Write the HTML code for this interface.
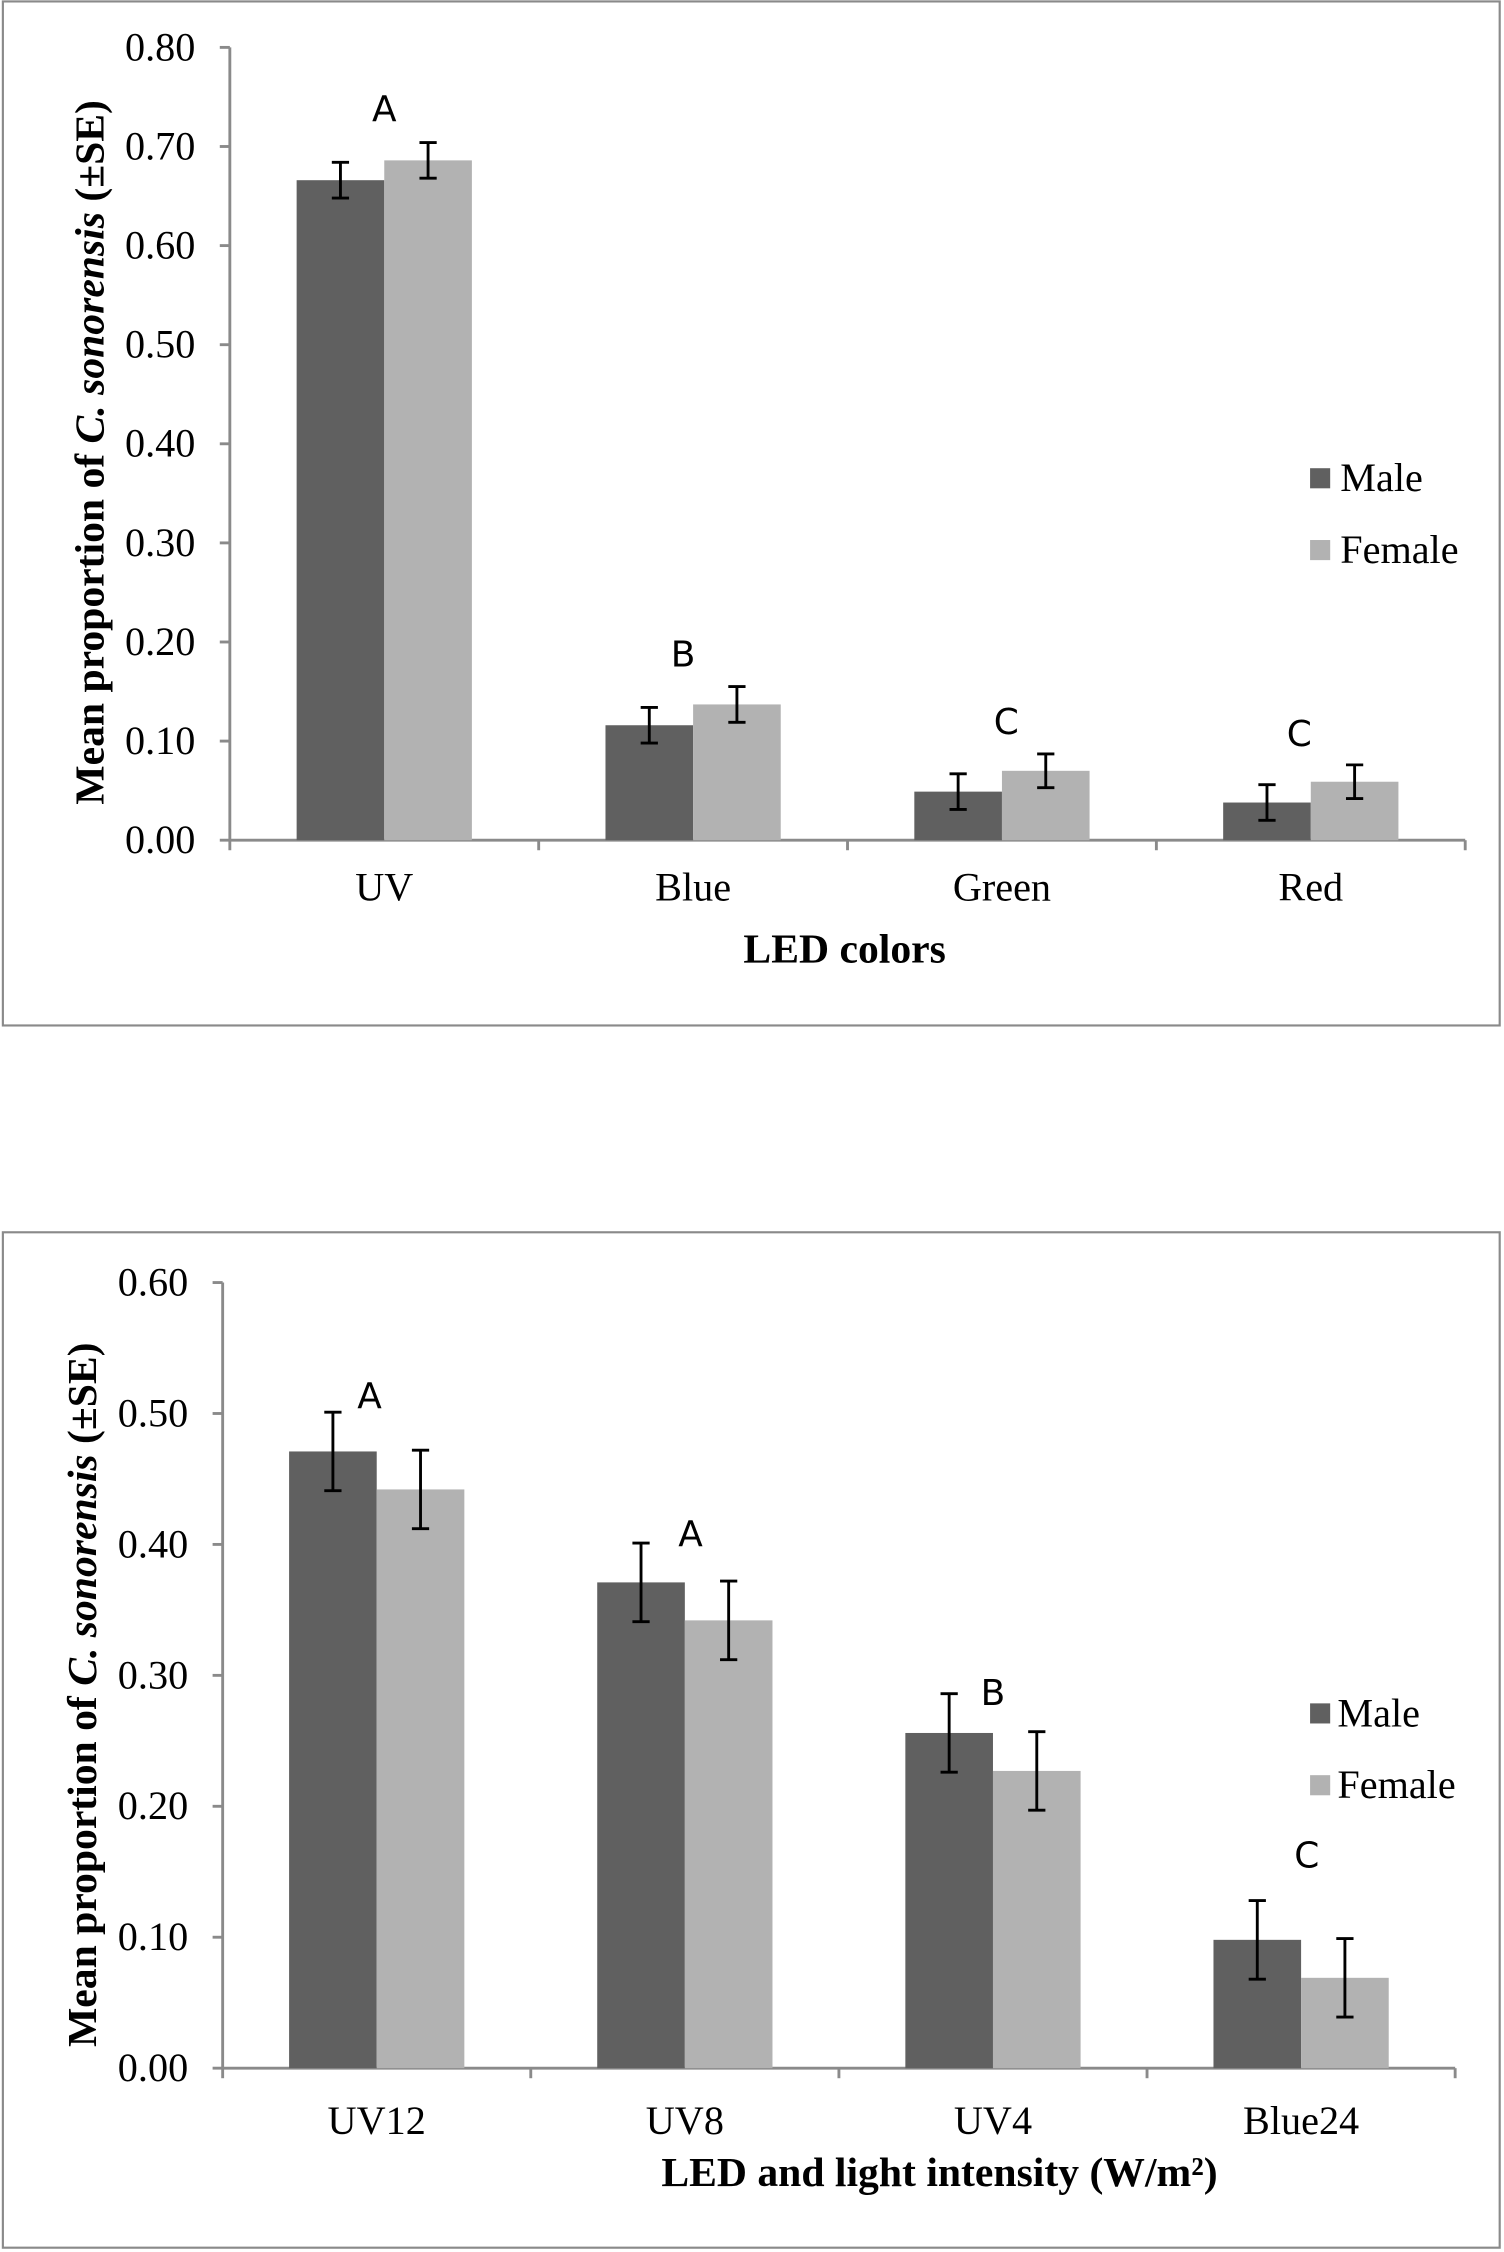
<!DOCTYPE html>
<html><head><meta charset="utf-8"><style>
html,body{margin:0;padding:0;background:#fff;}
svg{display:block;}
.tick{font-family:"Liberation Serif",serif;font-size:28px;fill:#000;}
.ttl{font-family:"Liberation Serif",serif;font-size:29px;font-weight:bold;fill:#000;}
.let{font-family:"DejaVu Sans","Liberation Sans",sans-serif;font-size:25px;fill:#000;}
</style></head><body>
<svg id="svg" width="1504" height="2252" viewBox="0 0 1047 1568" preserveAspectRatio="none" xmlns="http://www.w3.org/2000/svg">
<rect x="2" y="1" width="1042" height="713" fill="none" stroke="#8a8a8a" stroke-width="1.5"/>
<rect x="2" y="858" width="1042" height="707" fill="none" stroke="#8a8a8a" stroke-width="1.5"/>
<g id="c1"></g>
<g id="c2"></g>
</svg>
<script>
const c1Categories=["UV","Blue","Green","Red"];
const c1Male=[0.666,0.116,0.049,0.038];
const c1Female=[0.686,0.137,0.070,0.059];
const c1MaleErr=[0.018,0.018,0.018,0.018];
const c1FemaleErr=[0.018,0.018,0.017,0.017];
const c1Letters=["A","B","C","C"];
const c1Ticks=["0.00","0.10","0.20","0.30","0.40","0.50","0.60","0.70","0.80"];

const c2Categories=["UV12","UV8","UV4","Blue24"];
const c2Male=[0.471,0.371,0.256,0.098];
const c2Female=[0.442,0.342,0.227,0.069];
const c2MaleErr=[0.030,0.030,0.030,0.030];
const c2FemaleErr=[0.030,0.030,0.030,0.030];
const c2Letters=["A","A","B","C"];
const c2Ticks=["0.00","0.10","0.20","0.30","0.40","0.50","0.60"];

const NS="http://www.w3.org/2000/svg";
function mk(parent,tag,attrs,text){const e=document.createElementNS(NS,tag);for(const k in attrs)e.setAttribute(k,attrs[k]);if(text!==undefined)e.textContent=text;parent.appendChild(e);return e;}

function draw(g,cfg){
  const {x0,x1,y0,yTop,maxV,cats,male,female,me,fe,letters,ticks,xTitle,yTitleY,legendY,catLabelY,xTitleY,letterX,letterY}=cfg;
  const y=v=>y0-(v/maxV)*(y0-yTop);
  const cw=(x1-x0)/cats.length, bw=61;
  let a=mk(g,'line',{x1:x0,y1:yTop,x2:x0,y2:y0,stroke:'#8a8a8a','stroke-width':2});
  
  a=mk(g,'line',{x1:x0,y1:y0,x2:x1,y2:y0,stroke:'#8a8a8a','stroke-width':2});
  
  ticks.forEach((t,i)=>{
    const v=parseFloat(t), yy=y(v);
    mk(g,'line',{x1:x0-7,y1:yy,x2:x0,y2:yy,stroke:'#8a8a8a','stroke-width':2});
    const tx=mk(g,'text',{x:x0-24,y:yy+9,'text-anchor':'end','class':'tick'},t);
    
  });
  for(let i=0;i<=cats.length;i++){const xx=x0+i*cw;mk(g,'line',{x1:xx,y1:y0,x2:xx,y2:y0+7,stroke:'#8a8a8a','stroke-width':2});}
  cats.forEach((c,i)=>{
    const cx=x0+cw*(i+0.5);
    const bm=mk(g,'rect',{x:cx-bw,y:y(male[i]),width:bw,height:y0-y(male[i]),fill:'#606060'});
    
    const bf=mk(g,'rect',{x:cx,y:y(female[i]),width:bw,height:y0-y(female[i]),fill:'#b2b2b2'});
    
    [[cx-bw/2,male[i],me[i]],[cx+bw/2,female[i],fe[i]]].forEach(([ex,v,e])=>{
      const eg=mk(g,'g',{stroke:'#000','stroke-width':2});
      
      mk(eg,'line',{x1:ex,y1:y(v+e),x2:ex,y2:y(v-e)});
      mk(eg,'line',{x1:ex-6,y1:y(v+e),x2:ex+6,y2:y(v+e)});
      mk(eg,'line',{x1:ex-6,y1:y(v-e),x2:ex+6,y2:y(v-e)});
    });
    const top=Math.max(male[i]+me[i],female[i]+fe[i]);
    const lt=mk(g,'text',{x:cx+letterX[i],y:y(top)+letterY[i],'text-anchor':'middle','class':'let'},letters[i]);
    
    const cl=mk(g,'text',{x:cx,y:catLabelY,'text-anchor':'middle','class':'tick'},c);
    
  });
  const xt=mk(g,'text',{x:cfg.xTitleX,y:xTitleY,'text-anchor':'middle','class':'ttl'},xTitle);
  
  const yt=mk(g,'text',{x:0,y:0,'text-anchor':'middle','class':'ttl',transform:`translate(${cfg.yTitleX},${yTitleY}) rotate(-90)`});
  
  yt.appendChild(document.createTextNode('Mean proportion of '));
  mk(yt,'tspan',{'font-style':'italic'},'C. sonorensis');
  yt.appendChild(document.createTextNode(' (±SE)'));
  [['Male','#606060',0],['Female','#b2b2b2',50]].forEach(([n,col,dy])=>{
    const lg=mk(g,'g',{});
    
    mk(lg,'rect',{x:912,y:legendY+dy-7,width:14,height:14,fill:col});
    mk(lg,'text',{x:cfg.legendTextX,y:legendY+dy+9,'class':'tick'},n);
  });
}
draw(document.getElementById('c1'),{x0:160,x1:1020,y0:585,yTop:33,maxV:0.8,cats:c1Categories,male:c1Male,female:c1Female,me:c1MaleErr,fe:c1FemaleErr,letters:c1Letters,ticks:c1Ticks,xTitle:'LED colors',xTitleX:588,xTitleY:670,yTitleX:72,yTitleY:315,legendY:333,legendTextX:933,catLabelY:627,letterX:[0,-7,3,-8],letterY:[-15,-14,-14,-13]});
draw(document.getElementById('c2'),{x0:155,x1:1013,y0:1440,yTop:893,maxV:0.6,cats:c2Categories,male:c2Male,female:c2Female,me:c2MaleErr,fe:c2FemaleErr,letters:c2Letters,ticks:c2Ticks,xTitle:'LED and light intensity (W/m²)',xTitleX:654,xTitleY:1522,yTitleX:67,yTitleY:1180,legendY:1193,legendTextX:931,catLabelY:1486,letterX:[-5,4,0,4],letterY:[-3,2,8,-23]});
</script>
</body></html>
